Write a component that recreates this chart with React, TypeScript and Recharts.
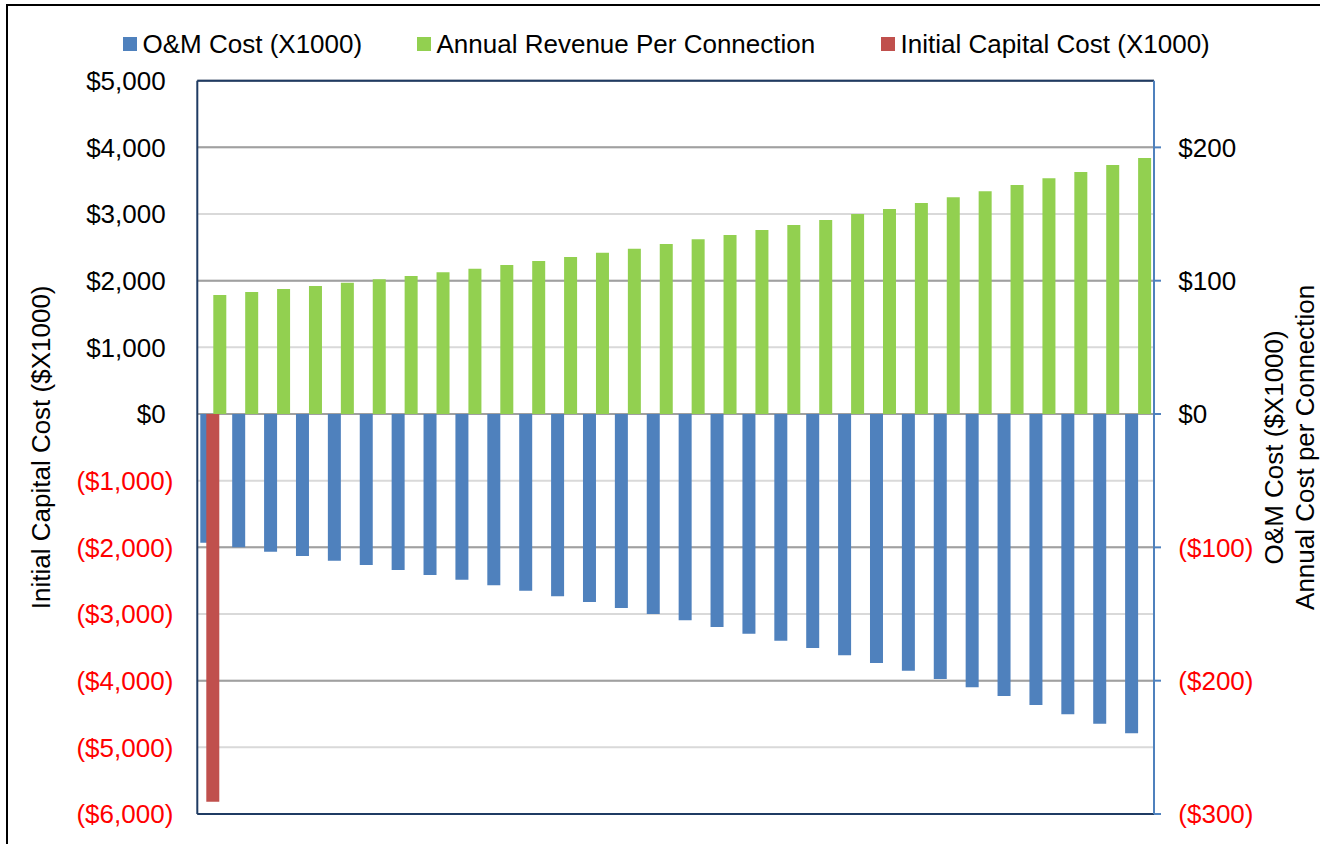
import React from 'react';
import { BarChart, Bar, XAxis, YAxis, CartesianGrid, Legend, ReferenceLine } from 'recharts';

const years = [1, 2, 3, 4, 5, 6, 7, 8, 9, 10, 11, 12, 13, 14, 15, 16, 17, 18, 19, 20, 21, 22, 23, 24, 25, 26, 27, 28, 29, 30];
const omCost = [-96.5, -100, -103.3, -106.5, -110, -113.3, -117, -120.8, -124.3, -128.5, -132.5, -136.7, -141, -145.5, -150, -154.7, -159.8, -164.8, -170, -175.5, -181, -186.8, -192.5, -198.8, -205, -211.5, -218.3, -225.2, -232.3, -239.5];
const revenue = [89.3, 91.5, 93.8, 96, 98.5, 101, 103.5, 106.3, 109, 111.8, 114.8, 117.8, 121, 124, 127.5, 131, 134.3, 138, 141.8, 145.5, 150, 153.8, 158.3, 162.5, 167, 171.8, 176.8, 181.5, 186.8, 192];
const capital: (number | null)[] = [-5815, null, null, null, null, null, null, null, null, null, null, null, null, null, null, null, null, null, null, null, null, null, null, null, null, null, null, null, null, null];

const leftTicks = [5000, 4000, 3000, 2000, 1000, 0, -1000, -2000, -3000, -4000, -5000, -6000];
const rightTicks = [200, 100, 0, -100, -200, -300];
const leftDomain = [-6000, 5000];
const rightDomain = [-300, 250];

const seriesNames = ['O&M Cost (X1000)', 'Annual Revenue Per Connection', 'Initial Capital Cost (X1000)'];
const seriesColors = ['#4F81BD', '#92D050', '#C0504D'];
const leftTitle = 'Initial Capital Cost ($X1000)';
const rightTitleLines = ['O&M Cost ($X1000)', 'Annual Cost per Connection'];

const FONT = '"Liberation Sans", Arial, sans-serif';

const data = years.map((y, i) => ({ year: y, om: omCost[i], rev: revenue[i], cap: capital[i] }));

const fmt = (v: number) => {
  const s = '$' + Math.abs(v).toLocaleString('en-US');
  return v < 0 ? '(' + s + ')' : s;
};

const LeftTick = (props: any) => {
  const { x, y, payload } = props;
  const v = payload.value;
  const neg = v < 0;
  return (
    <text x={neg ? x - 24 : x - 31.6} y={y} dy="0.355em" textAnchor="end" fill={neg ? '#FF0000' : '#000000'} fontSize={26} fontFamily={FONT}>
      {fmt(v)}
    </text>
  );
};

const RightTick = (props: any) => {
  const { x, y, payload } = props;
  const v = payload.value;
  const neg = v < 0;
  return (
    <text x={x} y={y} dy="0.355em" textAnchor="start" fill={neg ? '#FF0000' : '#000000'} fontSize={26} fontFamily={FONT}>
      {fmt(v)}
    </text>
  );
};

const LeftTitle = (props: any) => {
  const vb = props.viewBox || { x: 0, y: 80.7, width: 197.3, height: 733.3 };
  const cx = vb.x + 50.3;
  const cy = vb.y + vb.height / 2;
  return (
    <text x={cx} y={cy} textAnchor="middle" transform={`rotate(-90, ${cx}, ${cy})`} fontSize={26} fontFamily={FONT} fill="#000">
      {leftTitle}
    </text>
  );
};

const RightTitle = (props: any) => {
  const vb = props.viewBox || { x: 1154, y: 80.7, width: 166, height: 733.3 };
  const cy = vb.y + vb.height / 2;
  return (
    <g>
      {rightTitleLines.map((line, i) => {
        const cx = vb.x + 129.5 + i * 30.5;
        return (
          <text key={i} x={cx} y={cy} textAnchor="middle" transform={`rotate(-90, ${cx}, ${cy})`} fontSize={26} fontFamily={FONT} fill="#000">
            {line}
          </text>
        );
      })}
    </g>
  );
};

const legendLefts = [123, 417, 881];

const LegendContent = () => (
  <div style={{ position: 'relative', width: 1320, height: 60 }}>
    {seriesNames.map((n, i) => (
      <React.Fragment key={n}>
        <div style={{ position: 'absolute', left: legendLefts[i], top: 37, width: 13.5, height: 13.5, background: seriesColors[i] }} />
        <div style={{ position: 'absolute', left: legendLefts[i] + 19.5, top: 31, fontSize: 26, lineHeight: '26px', fontFamily: FONT, color: '#000', whiteSpace: 'nowrap' }}>{n}</div>
      </React.Fragment>
    ))}
  </div>
);

export default function App() {
  return (
    <div style={{ position: 'absolute', left: 0, top: 0, width: 1320, height: 844, overflow: 'hidden', background: '#ffffff' }}>
      <div style={{ position: 'absolute', left: 6, top: 4, width: 1400, height: 900, border: '2px solid #000', boxSizing: 'border-box' }} />
      <div style={{ position: 'absolute', left: 0, top: 0 }}>
        <BarChart width={1320} height={844} data={data} margin={{ top: 80.7, right: 0, bottom: 30, left: 0 }} barGap={0}>
          <XAxis xAxisId="a" dataKey="year" hide />
          <XAxis xAxisId="b" dataKey="year" hide />
          <YAxis
            yAxisId="left"
            orientation="left"
            width={197.3}
            domain={leftDomain}
            ticks={leftTicks}
            interval={0}
            allowDataOverflow
            tickSize={0}
            tickMargin={0}
            tickLine={false}
            axisLine={{ stroke: '#1F3B63', strokeWidth: 2 }}
            tick={<LeftTick />}
            label={<LeftTitle />}
          />
          <YAxis
            yAxisId="right"
            orientation="right"
            width={166}
            domain={rightDomain}
            ticks={rightTicks}
            interval={0}
            allowDataOverflow
            tickSize={7}
            tickMargin={17.3}
            tickLine={{ stroke: '#4F81BD', strokeWidth: 2 }}
            axisLine={{ stroke: '#4F81BD', strokeWidth: 2 }}
            tick={<RightTick />}
            label={<RightTitle />}
          />
          <CartesianGrid xAxisId="a" yAxisId="left" vertical={false} stroke="#D9D9D9" strokeWidth={2} />
          <CartesianGrid xAxisId="a" yAxisId="right" vertical={false} stroke="#A0A0A0" strokeWidth={2} />
          <Legend layout="horizontal" verticalAlign="middle" align="center" wrapperStyle={{ top: 0, left: 0, width: 1320, height: 60 }} content={<LegendContent />} />
          <Bar xAxisId="a" yAxisId="right" dataKey="om" name={seriesNames[0]} fill={seriesColors[0]} barSize={13} isAnimationActive={false} />
          <Bar xAxisId="a" yAxisId="right" dataKey="rev" name={seriesNames[1]} fill={seriesColors[1]} barSize={13} isAnimationActive={false} />
          <Bar xAxisId="b" yAxisId="left" dataKey="cap" name={seriesNames[2]} fill={seriesColors[2]} barSize={13} isAnimationActive={false} />
          <ReferenceLine xAxisId="a" yAxisId="left" y={5000} stroke="#1F3B63" strokeWidth={2} />
          <ReferenceLine xAxisId="a" yAxisId="left" y={-6000} stroke="#1F3B63" strokeWidth={2} />
        </BarChart>
      </div>
    </div>
  );
}
